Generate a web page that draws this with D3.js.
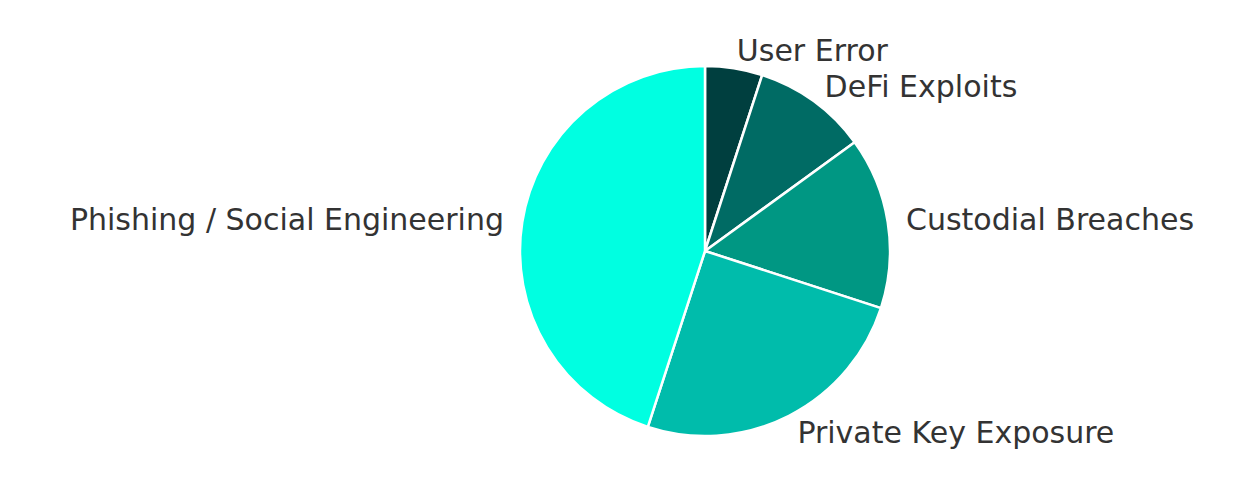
<!DOCTYPE html>
<html>
<head>
<meta charset="utf-8">
<script src="https://cdn.jsdelivr.net/npm/d3@7"></script>
<style>
  body { margin: 0; background: #fff; }
  text { font-family: "DejaVu Sans", sans-serif; }
</style>
</head>
<body>
<svg id="chart" width="1246" height="503"></svg>
<script>
// Share of losses by cause (percent)
var categories = ["User Error", "DeFi Exploits", "Custodial Breaches", "Private Key Exposure", "Phishing / Social Engineering"];
var values = [5, 10, 15, 25, 45];
var colors = ["#003f3f", "#006b64", "#009783", "#00bcab", "#00ffe1"];

var svg = d3.select("#chart");
var cx = 705, cy = 251, radius = 185;

var pie = d3.pie().sort(null).value(function(d) { return d; });
var arcs = pie(values);

var arc = d3.arc().innerRadius(0).outerRadius(radius);

var g = svg.append("g").attr("transform", "translate(" + cx + "," + cy + ")");

g.selectAll("path")
    .data(arcs)
    .enter().append("path")
    .attr("d", arc)
    .attr("fill", function(d, i) { return colors[i]; })
    .attr("stroke", "#fff")
    .attr("stroke-width", 2.5)
    .attr("stroke-linejoin", "round");

// Labels at 1.1 * radius on the mid angle
g.selectAll("text")
    .data(arcs)
    .enter().append("text")
    .attr("x", function(d) { return Math.sin((d.startAngle + d.endAngle) / 2) * radius * 1.1; })
    .attr("y", function(d) { return -Math.cos((d.startAngle + d.endAngle) / 2) * radius * 1.1; })
    .attr("dy", "0.35em")
    .attr("text-anchor", function(d) { return (d.startAngle + d.endAngle) / 2 < Math.PI ? "start" : "end"; })
    .attr("font-size", "30px")
    .attr("fill", "#333")
    .text(function(d, i) { return categories[i]; });
</script>
</body>
</html>
